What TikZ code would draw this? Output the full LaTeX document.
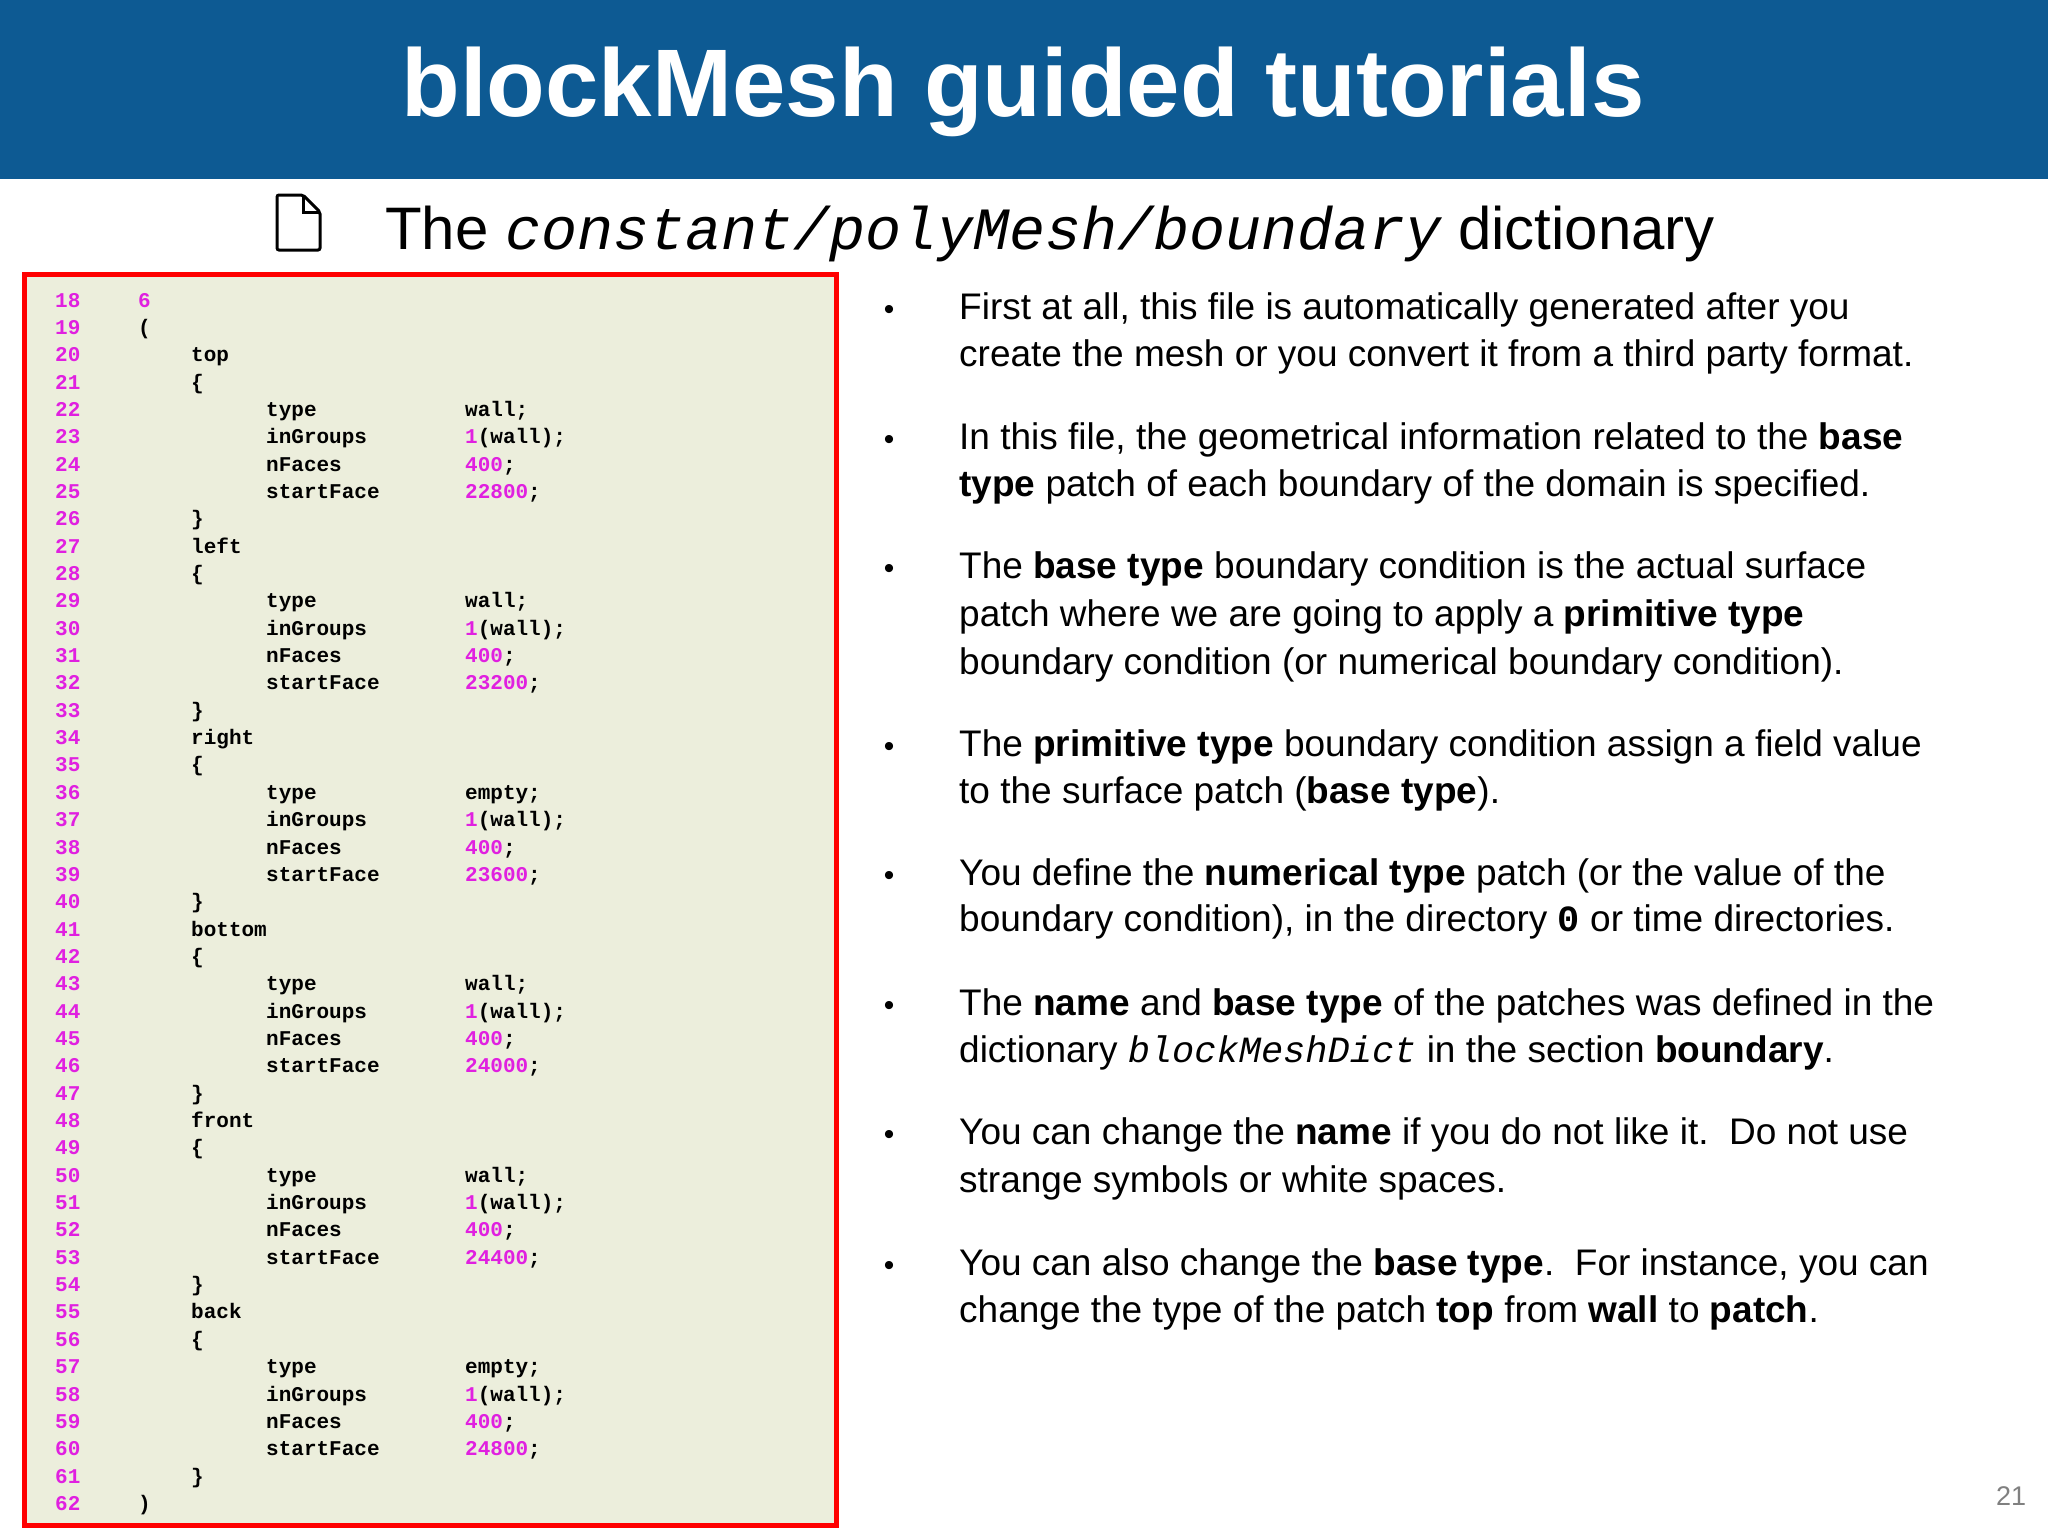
\documentclass[tikz,border=0pt]{standalone}
\usepackage{fontspec}
\setmainfont{Liberation Sans}
\newfontfamily\mono{Liberation Mono}
\definecolor{barblue}{HTML}{0D5A93}
\definecolor{mag}{HTML}{E020E0}
\definecolor{codebg}{HTML}{ECEEDC}
\newcommand\Ln[3]{\node[code] at (#1,{307+(#2-18)*27.35}) {#3};}
\newcommand\Blk[4]{%
 \Ln{191}{#1}{#2}\Ln{191}{#1+1}{\{}%
 \Ln{266}{#1+2}{type}\Ln{465}{#1+2}{#3;}%
 \Ln{266}{#1+3}{inGroups}\Ln{465}{#1+3}{\textcolor{mag}{1}(wall);}%
 \Ln{266}{#1+4}{nFaces}\Ln{465}{#1+4}{\textcolor{mag}{400};}%
 \Ln{266}{#1+5}{startFace}\Ln{465}{#1+5}{\textcolor{mag}{#4};}%
 \Ln{191}{#1+6}{\}}}
\newcommand\Bl[2]{\node[btxt] at (959,#1) {#2};}
\begin{document}
\begin{tikzpicture}[x=1pt,y=-1pt,
 code/.style={anchor=base west,inner sep=0pt,font=\mono\bfseries\fontsize{21}{24}\selectfont},
 btxt/.style={anchor=base west,inner sep=0pt,font=\fontsize{37}{44}\selectfont},
 bul/.style={anchor=base,inner sep=0pt,font=\fontsize{30}{36}\selectfont}]
\useasboundingbox (0,0) rectangle (2048,1536);
\fill[white] (0,0) rectangle (2048,1536);
\fill[barblue] (0,0) rectangle (2048,179);
\node[text=white,font=\bfseries\fontsize{96}{110}\selectfont] (title) at (1023,92) {blockMesh guided tutorials};
% icon
\draw[line width=3pt,rounded corners=2pt] (277,195) -- (303,195) -- (320,212) -- (320,250) -- (277,250) -- cycle;
\draw[line width=3pt] (303,195) -- (303,212) -- (320,212);
\node[anchor=base west,inner sep=0pt,font=\fontsize{60}{70}\selectfont] (sub) at (385,249) {The {\mono\itshape constant/polyMesh/boundary} dictionary};
% code box
\draw[red,fill=codebg,line width=5pt] (24,274) rectangle (836,1525);
\foreach \n in {18,...,62} \node[code,text=mag] at (55,{307+(\n-18)*27.35}) {\n};
\Ln{138}{18}{\textcolor{mag}{6}}
\Ln{138}{19}{(}
\Blk{20}{top}{wall}{22800}
\Blk{27}{left}{wall}{23200}
\Blk{34}{right}{empty}{23600}
\Blk{41}{bottom}{wall}{24000}
\Blk{48}{front}{wall}{24400}
\Blk{55}{back}{empty}{24800}
\Ln{138}{62}{)}
% bullets
\foreach \y in {319,449,578,756,885,1015,1144,1275} \node[bul] at (889,\y) {•};
\Bl{319}{First at all, this file is automatically generated after you}
\Bl{366}{create the mesh or you convert it from a third party format.}
\Bl{449}{In this file, the geometrical information related to the \textbf{base}}
\Bl{496}{\textbf{type} patch of each boundary of the domain is specified.}
\Bl{578}{The \textbf{base type} boundary condition is the actual surface}
\Bl{626}{patch where we are going to apply a \textbf{primitive type}}
\Bl{674}{boundary condition (or numerical boundary condition).}
\Bl{756}{The \textbf{primitive type} boundary condition assign a field value}
\Bl{803}{to the surface patch (\textbf{base type}).}
\Bl{885}{You define the \textbf{numerical type} patch (or the value of the}
\Bl{931}{boundary condition), in the directory {\mono\bfseries 0} or time directories.}
\Bl{1015}{The \textbf{name} and \textbf{base type} of the patches was defined in the}
\Bl{1062}{dictionary {\mono\itshape blockMeshDict} in the section \textbf{boundary}.}
\Bl{1144}{You can change the \textbf{name} if you do not like it.\ \ Do not use}
\Bl{1192}{strange symbols or white spaces.}
\Bl{1275}{You can also change the \textbf{base type}.\ \ For instance, you can}
\Bl{1322}{change the type of the patch \textbf{top} from \textbf{wall} to \textbf{patch}.}
\node[text=gray,font=\fontsize{27}{30}\selectfont] (pg) at (2011,1496) {21};
\end{tikzpicture}
\end{document}
